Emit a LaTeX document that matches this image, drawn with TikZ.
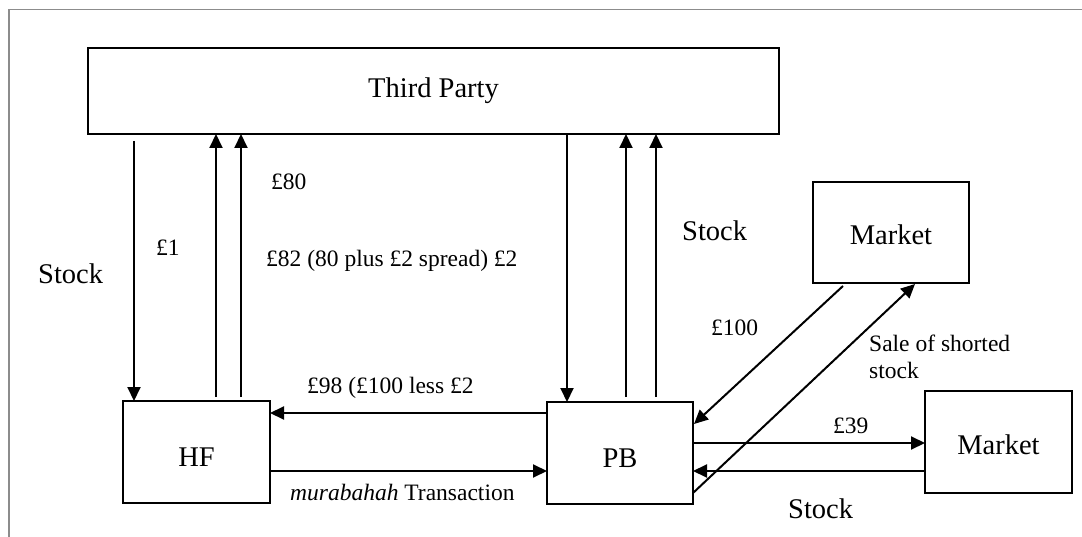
\documentclass[tikz,border=0pt]{standalone}
\usepackage{fontspec}
\setmainfont{Liberation Serif}
\usetikzlibrary{arrows.meta}
\begin{document}
\begin{tikzpicture}[x=1pt,y=-1pt,
  box/.style={draw,line width=2pt,inner sep=0pt,outer sep=0pt,font=\fontsize{28.5}{32}\selectfont},
  arr/.style={line width=2pt,-{Triangle[length=14pt,width=13pt]}},
  big/.style={inner sep=0pt,anchor=base west,font=\fontsize{28.5}{32}\selectfont},
  small/.style={inner sep=0pt,anchor=base west,font=\fontsize{23.5}{26}\selectfont}]
\useasboundingbox (0,0) rectangle (1082,537);
\draw[line width=1.3pt,color=black!45] (9,537) -- (9,9.3) -- (1082,9.3);
% boxes
\node[box,minimum width=691pt,minimum height=86pt] (TP) at (433.5,91) {Third Party};
\node[box,minimum width=147pt,minimum height=102pt,text height=28pt,text depth=0pt] (HF) at (196.5,452) {HF};
\node[box,minimum width=146pt,minimum height=102pt,text height=28pt,text depth=0pt] (PB) at (620,453) {PB};
\node[box,minimum width=156pt,minimum height=101pt,text height=25pt,text depth=0pt] (M1) at (891,232.5) {Market};
\node[box,minimum width=147pt,minimum height=102pt,text height=24pt,text depth=0pt] (M2) at (998.5,442) {Market};
% helper coordinates
\coordinate (s1) at (134,141);
\coordinate (u1) at (216,397);
\coordinate (u2) at (241,397);
\coordinate (d2) at (567,0);
\coordinate (u3) at (626,397);
\coordinate (u4) at (656,397);
\coordinate (h1) at (0,413);
\coordinate (h2) at (0,471);
\coordinate (h3) at (0,443);
\coordinate (h4) at (0,471);
\coordinate (a1) at (843,286);
\coordinate (a2) at (694,424);
\coordinate (a3) at (693,493);
\coordinate (a4) at (915,284);
% connectors
\draw[arr] (s1) -- (s1 |- HF.north);
\draw[arr] (u1) -- (u1 |- TP.south);
\draw[arr] (u2) -- (u2 |- TP.south);
\draw[arr] (d2 |- TP.south) -- (d2 |- PB.north);
\draw[arr] (u3) -- (u3 |- TP.south);
\draw[arr] (u4) -- (u4 |- TP.south);
\draw[arr] (h1 -| PB.west) -- (h1 -| HF.east);
\draw[arr] (h2 -| HF.east) -- (h2 -| PB.west);
\draw[arr] (h3 -| PB.east) -- (h3 -| M2.west);
\draw[arr] (h4 -| M2.west) -- (h4 -| PB.east);
\draw[arr] (a1) -- (a2);
\draw[arr] (a3) -- (a4);
% labels
\node[big] (lstock1) at (38,284) {Stock};
\node[small] (l1) at (156,256) {£1};
\node[small] (l80) at (271,190) {£80};
\node[small] (l82) at (266,266.7) {£82 (80 plus £2 spread) £2};
\node[big] (lstock2) at (682,241) {Stock};
\node[small] (l100) at (711,335.7) {£100};
\node[small] (lsale) at (869,352) {Sale of shorted};
\node[small] (lsale2) at (869,378) {stock};
\node[small] (l98) at (307,393) {£98 (£100 less £2};
\node[small] (lmur) at (290,500.7) {\textit{murabahah} Transaction};
\node[small] (l39) at (833,433) {£39};
\node[big] (lstock3) at (788,518) {Stock};
\end{tikzpicture}
\end{document}
